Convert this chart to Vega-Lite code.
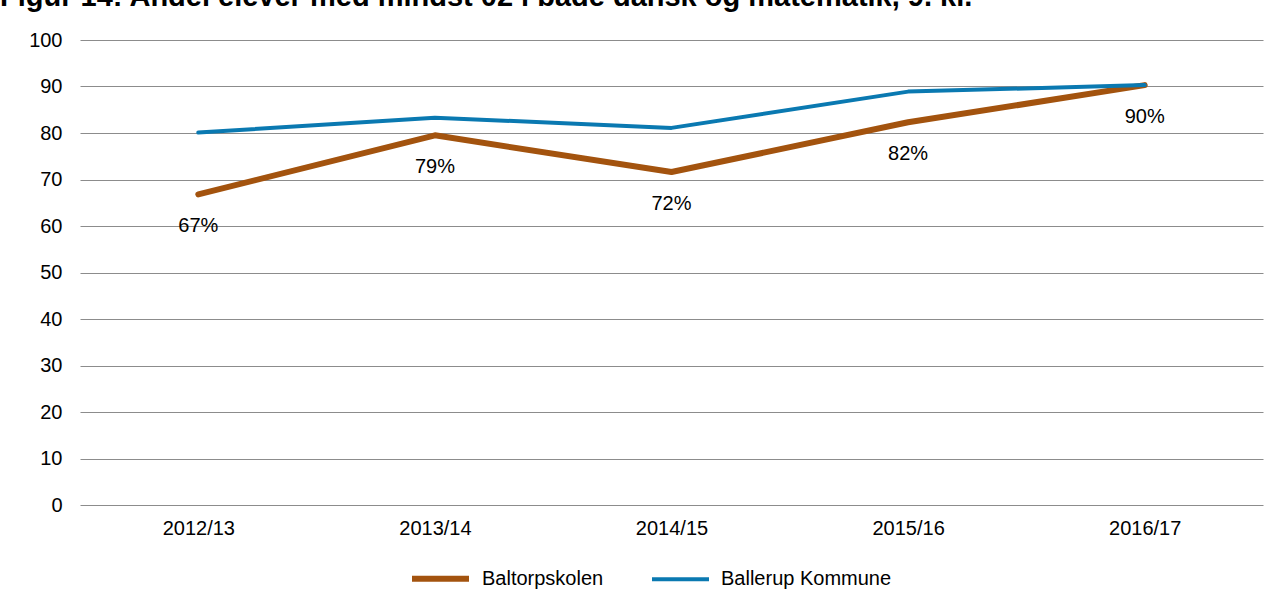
{
  "$schema": "https://vega.github.io/schema/vega-lite/v6.json",
  "width": 1183,
  "height": 465,
  "autosize": {"type": "none"},
  "padding": {"left": 80, "top": 40, "right": 19, "bottom": 105},
  "background": "white",
  "config": {
    "font": "Liberation Sans",
    "view": {"stroke": null}
  },
  "title": {
    "text": "Figur 14: Andel elever med mindst 02 i både dansk og matematik, 9. kl.",
    "anchor": "start",
    "frame": "group",
    "dx": -80,
    "offset": 18,
    "fontSize": 29,
    "fontWeight": "bold",
    "color": "#000000",
    "font": "Liberation Sans"
  },
  "data": {
    "values": [
      {"year": "2012/13", "series": "Baltorpskolen", "value": 66.8, "label": "67%"},
      {"year": "2013/14", "series": "Baltorpskolen", "value": 79.5, "label": "79%"},
      {"year": "2014/15", "series": "Baltorpskolen", "value": 71.6, "label": "72%"},
      {"year": "2015/16", "series": "Baltorpskolen", "value": 82.3, "label": "82%"},
      {"year": "2016/17", "series": "Baltorpskolen", "value": 90.3, "label": "90%"},
      {"year": "2012/13", "series": "Ballerup Kommune", "value": 80.1, "label": ""},
      {"year": "2013/14", "series": "Ballerup Kommune", "value": 83.3, "label": ""},
      {"year": "2014/15", "series": "Ballerup Kommune", "value": 81.1, "label": ""},
      {"year": "2015/16", "series": "Ballerup Kommune", "value": 88.9, "label": ""},
      {"year": "2016/17", "series": "Ballerup Kommune", "value": 90.3, "label": ""}
    ]
  },
  "encoding": {
    "x": {
      "field": "year", "type": "ordinal", "sort": null,
      "scale": {"paddingInner": 0, "paddingOuter": 0.5},
      "axis": {
        "title": null, "labelAngle": 0, "ticks": false, "domain": false,
        "labelFontSize": 20, "labelColor": "#000000", "labelPadding": 13, "grid": false
      }
    },
    "y": {
      "field": "value", "type": "quantitative",
      "scale": {"domain": [0, 100], "nice": false},
      "axis": {
        "title": null, "values": [0,10,20,30,40,50,60,70,80,90,100],
        "ticks": false, "domain": false, "labelFontSize": 20, "labelColor": "#000000",
        "labelPadding": 18, "gridColor": "#8c8c8c", "gridWidth": 1
      }
    }
  },
  "layer": [
    {
      "mark": {"type": "line", "strokeCap": "round", "strokeJoin": "round"},
      "encoding": {
        "color": {
          "field": "series", "type": "nominal",
          "scale": {"domain": ["Baltorpskolen", "Ballerup Kommune"], "range": ["#A3530E", "#0A79B1"]},
          "legend": {
            "title": null, "orient": "none", "direction": "horizontal",
            "legendX": 329, "legendY": 507,
            "symbolType": "stroke", "symbolSize": 3249,
            "labelFontSize": 20, "labelColor": "#000000", "labelLimit": 400,
            "columnPadding": 40, "labelOffset": 10
          }
        },
        "strokeWidth": {
          "field": "series", "type": "nominal",
          "scale": {"domain": ["Baltorpskolen", "Ballerup Kommune"], "range": [6, 4]},
          "legend": {
            "title": null, "orient": "none", "direction": "horizontal",
            "legendX": 329, "legendY": 507,
            "symbolType": "stroke", "symbolSize": 3249,
            "labelFontSize": 20, "labelColor": "#000000", "labelLimit": 400,
            "columnPadding": 40, "labelOffset": 10
          }
        }
      }
    },
    {
      "mark": {"type": "text", "dy": 32, "fontSize": 20, "color": "#000000"},
      "encoding": {"text": {"field": "label"}}
    }
  ]
}
